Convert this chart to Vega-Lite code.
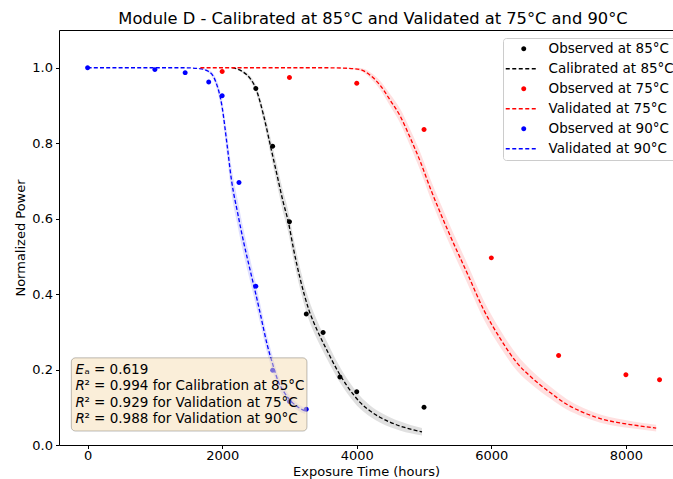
{
  "$schema": "https://vega.github.io/schema/vega-lite/v6.json",
  "width": 614,
  "height": 415,
  "autosize": {"type": "none"},
  "padding": {"left": 59, "top": 30, "right": 0, "bottom": 34},
  "background": "white",
  "title": {"text": "Module D - Calibrated at 85°C and Validated at 75°C and 90°C", "font": "DejaVu Sans", "fontSize": 16.3, "fontWeight": "normal", "color": "black", "anchor": "middle", "offset": 3, "dx": 7},
  "datasets": {
    "fit": [
      {"series": "Validated at 90°C", "t": 0, "p": 1.0, "d": 0},
      {"series": "Validated at 90°C", "t": 1000, "p": 1.0, "d": 0},
      {"series": "Validated at 90°C", "t": 1400, "p": 1.0, "d": 0},
      {"series": "Validated at 90°C", "t": 1650, "p": 0.998, "d": 0.001},
      {"series": "Validated at 90°C", "t": 1800, "p": 0.99, "d": 0.004},
      {"series": "Validated at 90°C", "t": 1900, "p": 0.965, "d": 0.01},
      {"series": "Validated at 90°C", "t": 2000, "p": 0.895, "d": 0.02},
      {"series": "Validated at 90°C", "t": 2070, "p": 0.8, "d": 0.03},
      {"series": "Validated at 90°C", "t": 2140, "p": 0.7, "d": 0.035},
      {"series": "Validated at 90°C", "t": 2230, "p": 0.615, "d": 0.035},
      {"series": "Validated at 90°C", "t": 2320, "p": 0.537, "d": 0.033},
      {"series": "Validated at 90°C", "t": 2420, "p": 0.46, "d": 0.03},
      {"series": "Validated at 90°C", "t": 2500, "p": 0.4, "d": 0.028},
      {"series": "Validated at 90°C", "t": 2570, "p": 0.345, "d": 0.026},
      {"series": "Validated at 90°C", "t": 2670, "p": 0.265, "d": 0.023},
      {"series": "Validated at 90°C", "t": 2750, "p": 0.215, "d": 0.02},
      {"series": "Validated at 90°C", "t": 2830, "p": 0.17, "d": 0.016},
      {"series": "Validated at 90°C", "t": 2920, "p": 0.14, "d": 0.013},
      {"series": "Validated at 90°C", "t": 3030, "p": 0.115, "d": 0.01},
      {"series": "Validated at 90°C", "t": 3130, "p": 0.1, "d": 0.009},
      {"series": "Validated at 90°C", "t": 3235, "p": 0.09, "d": 0.008},
      {"series": "Calibrated at 85°C", "t": 2150, "p": 1.0, "d": 0},
      {"series": "Calibrated at 85°C", "t": 2300, "p": 0.99, "d": 0.003},
      {"series": "Calibrated at 85°C", "t": 2400, "p": 0.975, "d": 0.006},
      {"series": "Calibrated at 85°C", "t": 2500, "p": 0.945, "d": 0.01},
      {"series": "Calibrated at 85°C", "t": 2615, "p": 0.874, "d": 0.016},
      {"series": "Calibrated at 85°C", "t": 2715, "p": 0.795, "d": 0.022},
      {"series": "Calibrated at 85°C", "t": 2815, "p": 0.716, "d": 0.026},
      {"series": "Calibrated at 85°C", "t": 2905, "p": 0.645, "d": 0.028},
      {"series": "Calibrated at 85°C", "t": 2985, "p": 0.59, "d": 0.029},
      {"series": "Calibrated at 85°C", "t": 3060, "p": 0.52, "d": 0.029},
      {"series": "Calibrated at 85°C", "t": 3160, "p": 0.44, "d": 0.028},
      {"series": "Calibrated at 85°C", "t": 3285, "p": 0.36, "d": 0.027},
      {"series": "Calibrated at 85°C", "t": 3410, "p": 0.305, "d": 0.025},
      {"series": "Calibrated at 85°C", "t": 3560, "p": 0.25, "d": 0.023},
      {"series": "Calibrated at 85°C", "t": 3705, "p": 0.2, "d": 0.021},
      {"series": "Calibrated at 85°C", "t": 3855, "p": 0.157, "d": 0.019},
      {"series": "Calibrated at 85°C", "t": 4050, "p": 0.113, "d": 0.017},
      {"series": "Calibrated at 85°C", "t": 4200, "p": 0.09, "d": 0.015},
      {"series": "Calibrated at 85°C", "t": 4350, "p": 0.073, "d": 0.014},
      {"series": "Calibrated at 85°C", "t": 4500, "p": 0.06, "d": 0.013},
      {"series": "Calibrated at 85°C", "t": 4650, "p": 0.05, "d": 0.012},
      {"series": "Calibrated at 85°C", "t": 4800, "p": 0.042, "d": 0.011},
      {"series": "Calibrated at 85°C", "t": 4970, "p": 0.035, "d": 0.01},
      {"series": "Validated at 75°C", "t": 1676, "p": 1.0, "d": 0},
      {"series": "Validated at 75°C", "t": 3000, "p": 1.0, "d": 0},
      {"series": "Validated at 75°C", "t": 3500, "p": 1.0, "d": 0},
      {"series": "Validated at 75°C", "t": 3800, "p": 0.999, "d": 0.001},
      {"series": "Validated at 75°C", "t": 4050, "p": 0.995, "d": 0.004},
      {"series": "Validated at 75°C", "t": 4200, "p": 0.98, "d": 0.008},
      {"series": "Validated at 75°C", "t": 4350, "p": 0.953, "d": 0.012},
      {"series": "Validated at 75°C", "t": 4500, "p": 0.913, "d": 0.016},
      {"series": "Validated at 75°C", "t": 4645, "p": 0.872, "d": 0.019},
      {"series": "Validated at 75°C", "t": 4800, "p": 0.812, "d": 0.022},
      {"series": "Validated at 75°C", "t": 4945, "p": 0.751, "d": 0.024},
      {"series": "Validated at 75°C", "t": 5094, "p": 0.68, "d": 0.025},
      {"series": "Validated at 75°C", "t": 5250, "p": 0.612, "d": 0.026},
      {"series": "Validated at 75°C", "t": 5400, "p": 0.55, "d": 0.026},
      {"series": "Validated at 75°C", "t": 5640, "p": 0.456, "d": 0.026},
      {"series": "Validated at 75°C", "t": 5885, "p": 0.359, "d": 0.025},
      {"series": "Validated at 75°C", "t": 6140, "p": 0.28, "d": 0.023},
      {"series": "Validated at 75°C", "t": 6380, "p": 0.218, "d": 0.021},
      {"series": "Validated at 75°C", "t": 6630, "p": 0.174, "d": 0.018},
      {"series": "Validated at 75°C", "t": 6875, "p": 0.139, "d": 0.016},
      {"series": "Validated at 75°C", "t": 7120, "p": 0.108, "d": 0.014},
      {"series": "Validated at 75°C", "t": 7370, "p": 0.086, "d": 0.012},
      {"series": "Validated at 75°C", "t": 7620, "p": 0.07, "d": 0.011},
      {"series": "Validated at 75°C", "t": 7865, "p": 0.06, "d": 0.01},
      {"series": "Validated at 75°C", "t": 8110, "p": 0.053, "d": 0.009},
      {"series": "Validated at 75°C", "t": 8450, "p": 0.045, "d": 0.009}
    ],
    "obs": [
      {"series": "Observed at 85°C", "t": 2500, "p": 0.945},
      {"series": "Observed at 85°C", "t": 2750, "p": 0.792},
      {"series": "Observed at 85°C", "t": 3000, "p": 0.592},
      {"series": "Observed at 85°C", "t": 3250, "p": 0.347},
      {"series": "Observed at 85°C", "t": 3500, "p": 0.298},
      {"series": "Observed at 85°C", "t": 3750, "p": 0.18},
      {"series": "Observed at 85°C", "t": 4000, "p": 0.141},
      {"series": "Observed at 85°C", "t": 5000, "p": 0.1},
      {"series": "Observed at 75°C", "t": 2000, "p": 0.99},
      {"series": "Observed at 75°C", "t": 3000, "p": 0.974},
      {"series": "Observed at 75°C", "t": 4000, "p": 0.959},
      {"series": "Observed at 75°C", "t": 5000, "p": 0.836},
      {"series": "Observed at 75°C", "t": 6000, "p": 0.496},
      {"series": "Observed at 75°C", "t": 7000, "p": 0.237},
      {"series": "Observed at 75°C", "t": 8000, "p": 0.186},
      {"series": "Observed at 75°C", "t": 8500, "p": 0.173},
      {"series": "Observed at 90°C", "t": 0, "p": 1.0},
      {"series": "Observed at 90°C", "t": 1000, "p": 0.995},
      {"series": "Observed at 90°C", "t": 1450, "p": 0.987},
      {"series": "Observed at 90°C", "t": 1800, "p": 0.962},
      {"series": "Observed at 90°C", "t": 2000, "p": 0.926},
      {"series": "Observed at 90°C", "t": 2250, "p": 0.696},
      {"series": "Observed at 90°C", "t": 2500, "p": 0.421},
      {"series": "Observed at 90°C", "t": 2750, "p": 0.198},
      {"series": "Observed at 90°C", "t": 3000, "p": 0.115},
      {"series": "Observed at 90°C", "t": 3250, "p": 0.095}
    ],
    "note": [
      {"sym": "E", "rest": "ₐ = 0.619"},
      {"sym": "R", "rest": "² = 0.994 for Calibration at 85°C"},
      {"sym": "R", "rest": "² = 0.929 for Validation at 75°C"},
      {"sym": "R", "rest": "² = 0.988 for Validation at 90°C"}
    ]
  },
  "layer": [
    {
      "data": {"name": "fit"},
      "transform": [{"calculate": "datum.p - datum.d", "as": "lo"}, {"calculate": "datum.p + datum.d", "as": "hi"}],
      "mark": {"type": "area", "opacity": 0.12, "interpolate": "monotone"},
      "encoding": {
        "x": {"field": "t", "type": "quantitative", "scale": {"domain": [-425, 8700], "nice": false, "zero": false},
          "axis": {"title": "Exposure Time (hours)", "values": [0, 2000, 4000, 6000, 8000], "format": "d"}},
        "y": {"field": "lo", "type": "quantitative", "scale": {"domain": [0, 1.1], "nice": false}, "title": "Normalized Power",
          "axis": {"values": [0, 0.2, 0.4, 0.6, 0.8, 1.0], "format": ".1f"}},
        "y2": {"field": "hi"},
        "fill": {"field": "series", "type": "nominal", "legend": null,
          "scale": {"domain": ["Calibrated at 85°C", "Validated at 75°C", "Validated at 90°C"], "range": ["#000000", "#ff0000", "#0000ff"]}}
      }
    },
    {
      "data": {"name": "fit"},
      "mark": {"type": "line", "strokeDash": [4, 2.2], "strokeWidth": 1.3, "interpolate": "monotone"},
      "encoding": {
        "x": {"field": "t", "type": "quantitative", "title": "Exposure Time (hours)"},
        "y": {"field": "p", "type": "quantitative", "title": "Normalized Power"},
        "stroke": {"field": "series", "type": "nominal", "legend": null,
          "scale": {"domain": ["Calibrated at 85°C", "Validated at 75°C", "Validated at 90°C"], "range": ["#000000", "#ff0000", "#0000ff"]}}
      }
    },
    {
      "data": {"name": "obs"},
      "mark": {"type": "point", "filled": true, "size": 64, "opacity": 1, "strokeWidth": 0},
      "encoding": {
        "x": {"field": "t", "type": "quantitative", "title": "Exposure Time (hours)"},
        "y": {"field": "p", "type": "quantitative", "title": "Normalized Power"},
        "color": {"field": "series", "type": "nominal",
          "scale": {"domain": ["Observed at 85°C", "Calibrated at 85°C", "Observed at 75°C", "Validated at 75°C", "Observed at 90°C", "Validated at 90°C"],
            "range": ["#000000", "#000000", "#ff0000", "#ff0000", "#0000ff", "#0000ff"]},
          "legend": {
            "title": null, "orient": "none", "legendX": 444, "legendY": 8,
            "fillColor": "white", "strokeColor": "#cccccc", "cornerRadius": 3, "padding": 4,
            "labelFont": "DejaVu Sans", "labelFontSize": 13.5, "labelColor": "black", "labelOffset": 18,
            "symbolSize": 64, "symbolOffset": 10, "rowPadding": 5, "symbolStrokeWidth": 0
          }},
        "shape": {"field": "series", "type": "nominal",
          "scale": {"domain": ["Observed at 85°C", "Calibrated at 85°C", "Observed at 75°C", "Validated at 75°C", "Observed at 90°C", "Validated at 90°C"],
            "range": [
              "M0.62,0 A0.62,0.62 0 1,1 -0.62,0 A0.62,0.62 0 1,1 0.62,0 Z",
              "M-4.5,-0.17 L-3.5,-0.17 L-3.5,0.17 L-4.5,0.17 Z M-2.875,-0.17 L-1.875,-0.17 L-1.875,0.17 L-2.875,0.17 Z M-1.25,-0.17 L-0.25,-0.17 L-0.25,0.17 L-1.25,0.17 Z M0.375,-0.17 L1.375,-0.17 L1.375,0.17 L0.375,0.17 Z M2,-0.17 L3,-0.17 L3,0.17 L2,0.17 Z",
              "M0.62,0 A0.62,0.62 0 1,1 -0.62,0 A0.62,0.62 0 1,1 0.62,0 Z",
              "M-4.5,-0.17 L-3.5,-0.17 L-3.5,0.17 L-4.5,0.17 Z M-2.875,-0.17 L-1.875,-0.17 L-1.875,0.17 L-2.875,0.17 Z M-1.25,-0.17 L-0.25,-0.17 L-0.25,0.17 L-1.25,0.17 Z M0.375,-0.17 L1.375,-0.17 L1.375,0.17 L0.375,0.17 Z M2,-0.17 L3,-0.17 L3,0.17 L2,0.17 Z",
              "M0.62,0 A0.62,0.62 0 1,1 -0.62,0 A0.62,0.62 0 1,1 0.62,0 Z",
              "M-4.5,-0.17 L-3.5,-0.17 L-3.5,0.17 L-4.5,0.17 Z M-2.875,-0.17 L-1.875,-0.17 L-1.875,0.17 L-2.875,0.17 Z M-1.25,-0.17 L-0.25,-0.17 L-0.25,0.17 L-1.25,0.17 Z M0.375,-0.17 L1.375,-0.17 L1.375,0.17 L0.375,0.17 Z M2,-0.17 L3,-0.17 L3,0.17 L2,0.17 Z"
            ]}}
      }
    },
    {
      "data": {"name": "note"},
      "transform": [{"filter": "datum.sym === 'E'"}],
      "mark": {"type": "rect", "fill": "#f5deb3", "fillOpacity": 0.5, "stroke": "#000000", "strokeOpacity": 0.25, "strokeWidth": 1, "cornerRadius": 4},
      "encoding": {
        "x": {"datum": -242, "type": "quantitative"}, "x2": {"datum": 3260},
        "y": {"datum": 0.231, "type": "quantitative"}, "y2": {"datum": 0.037}
      }
    },
    {
      "data": {"name": "note"},
      "transform": [{"aggregate": [{"op": "values", "field": "sym", "as": "syms"}, {"op": "values", "field": "rest", "as": "rests"}]},
                    {"calculate": "pluck(datum.syms, 'sym')", "as": "symLines"},
                    {"calculate": "pluck(datum.rests, 'rest')", "as": "restLines"}],
      "layer": [
        {
          "mark": {"type": "text", "font": "DejaVu Sans", "fontSize": 13.5, "fontStyle": "italic", "align": "left", "baseline": "middle", "lineHeight": 16.5, "color": "black"},
          "encoding": {
            "x": {"datum": -181, "type": "quantitative"}, "y": {"datum": 0.2, "type": "quantitative"},
            "text": {"field": "symLines"}
          }
        },
        {
          "mark": {"type": "text", "font": "DejaVu Sans", "fontSize": 13.5, "align": "left", "baseline": "middle", "lineHeight": 16.5, "color": "black", "dx": 9},
          "encoding": {
            "x": {"datum": -181, "type": "quantitative"}, "y": {"datum": 0.2, "type": "quantitative"},
            "text": {"field": "restLines"}
          }
        }
      ]
    }
  ],
  "config": {
    "view": {"stroke": "black", "strokeWidth": 1},
    "axis": {"domain": false, "grid": false, "ticks": true, "tickColor": "black", "tickSize": 3.5, "tickWidth": 1,
      "labelFont": "DejaVu Sans", "labelFontSize": 13, "labelColor": "black", "labelPadding": 3,
      "titleFont": "DejaVu Sans", "titleFontSize": 13, "titleFontWeight": "normal", "titleColor": "black"},
    "axisY": {"titlePadding": 4},
    "axisX": {"labelPadding": 1, "titlePadding": 3}
  }
}
